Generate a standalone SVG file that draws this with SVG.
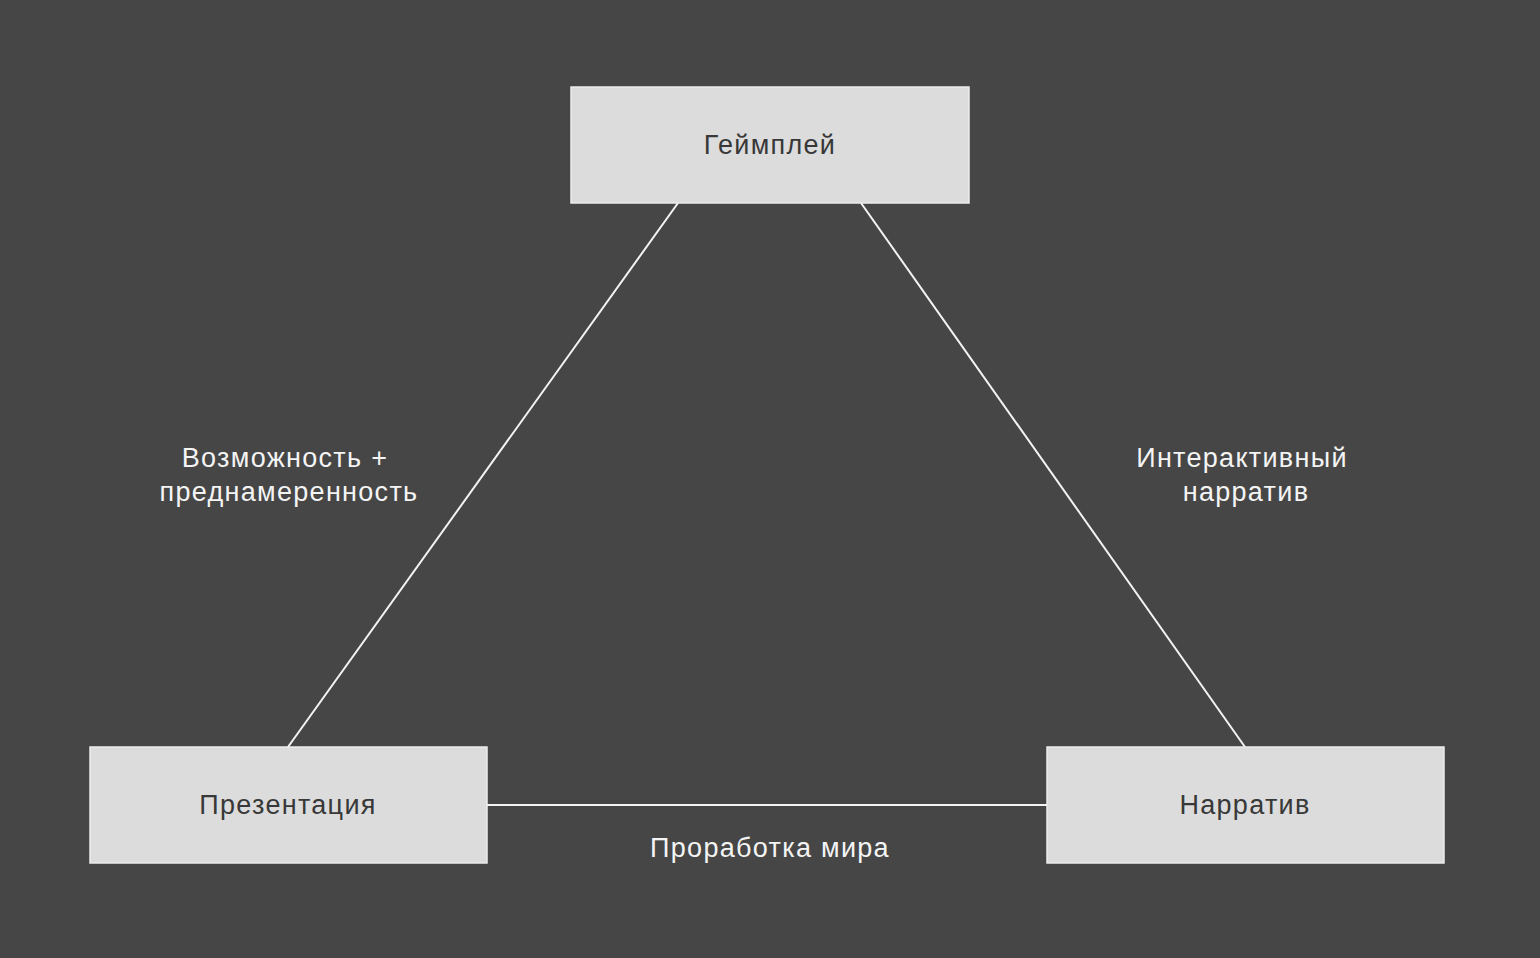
<svg xmlns="http://www.w3.org/2000/svg" width="1540" height="958" viewBox="0 0 1540 958">
<style>
.box{fill:#dcdcdc;stroke:#ececec;stroke-width:1.5}
.nt{font-family:"Liberation Sans",Arial,sans-serif;font-size:27px;fill:#383838;text-anchor:middle;letter-spacing:1.3px}
.lt{font-family:"Liberation Sans",Arial,sans-serif;font-size:27px;fill:#f4f4f4;text-anchor:middle;letter-spacing:1.3px}
.ln{stroke:#f4f4f4;stroke-width:2;fill:none}
</style>
<rect width="1540" height="958" fill="#464646"/>
<g id="connectors">
<line class="ln" x1="678" y1="203" x2="288" y2="747"/>
<line class="ln" x1="861" y1="203" x2="1245" y2="747"/>
<line class="ln" x1="487" y1="805" x2="1047" y2="805"/>
</g>
<g id="labels">
<text class="lt" x="285" y="467">Возможность +</text>
<text class="lt" x="289" y="501">преднамеренность</text>
<text class="lt" x="1242" y="467">Интерактивный</text>
<text class="lt" x="1246" y="501">нарратив</text>
<text class="lt" x="770" y="857">Проработка мира</text>
</g>
<g id="gameplay">
<rect class="box" x="571" y="87" width="398" height="116"/>
<text class="nt" x="770" y="154">Геймплей</text>
</g>
<g id="presentation">
<rect class="box" x="90" y="747" width="397" height="116"/>
<text class="nt" x="288" y="814">Презентация</text>
</g>
<g id="narrative">
<rect class="box" x="1047" y="747" width="397" height="116"/>
<text class="nt" x="1245" y="814">Нарратив</text>
</g>
</svg>
